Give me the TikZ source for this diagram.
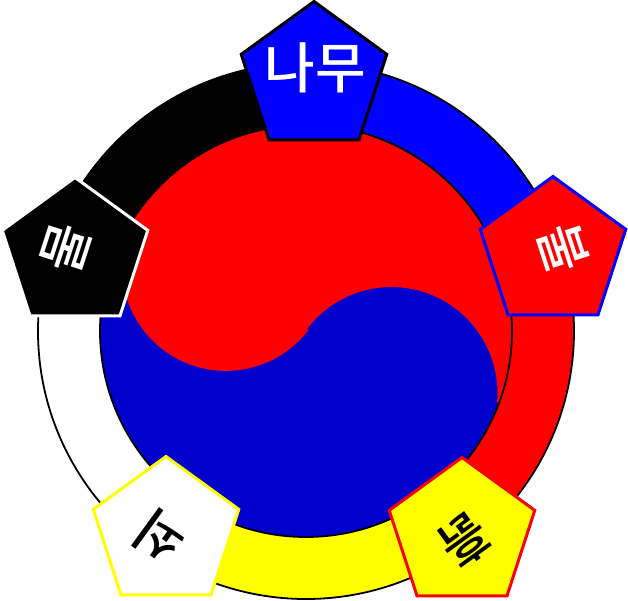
\documentclass[tikz,border=0pt]{standalone}
\usepackage{fontspec}
\newfontfamily\hangul[UprightFont=* Medium]{Noto Sans CJK KR}
\usetikzlibrary{shapes.geometric}
\definecolor{deepblue}{HTML}{0000CC}
\definecolor{puregold}{HTML}{FFFF00}
\tikzstyle{element} = [
  regular polygon,
  regular polygon sides=5,
  minimum size=153pt,
  inner sep=0pt,
  line width=3pt,
  draw,
]
\tikzstyle{glyph} = [
  inner sep=0pt,
  font=\hangul\fontsize{52}{52}\selectfont,
]
\tikzstyle{rim} = [
  draw=black,
  line width=1.8pt,
]

\begin{document}
\begin{tikzpicture}[
    x=1pt,
    y=1pt,
  ]
  \useasboundingbox (0,0) rectangle (628,600);
  \coordinate (hub) at (306,269);
  % the five sectors of the ring
  \foreach \tone/\from/\upto in {
    blue/88/18,
    red/18/-52,
    puregold/-52/-125,
    white/-125/-198,
    black/162/88%
  }{
    \fill[\tone] (hub) -- ++(\from:268) arc[start angle=\from,end angle=\upto,radius=268] -- cycle;
  }
  \draw[rim] (hub) circle[radius=268];
  % the disc
  \fill[deepblue] (hub) circle[radius=206];
  \begin{scope}
    \clip (hub) circle[radius=206];
    \fill[red] (308.5,270)
      arc[start angle=-37.4,end angle=-195,radius=104]
      -- (90,600) -- (628,600) -- (628,197) -- (497,197)
      arc[start angle=-5.4,end angle=142.6,radius=106]
      -- cycle;
  \end{scope}
  \draw[rim] (hub) circle[radius=206];
  % the pentagons
  \node[element,fill=blue,draw=black] (wood) at (314,522) {};
  \node[element,fill=red,draw=blue] (fire) at (553,347) {};
  \node[element,fill=puregold,draw=red] (earth) at (462,66) {};
  \node[element,fill=white,draw=puregold] (metal) at (166,67) {};
  \node[element,fill=black,draw=white] (water) at (75,346) {};
  \node[glyph,text=white,font=\hangul\fontsize{55}{55}\selectfont] (woodname) at (315,532) {나무};
  \node[glyph,text=white,rotate=-72] (firename) at (563,352) {불};
  \node[glyph,text=black,rotate=-144] (earthname) at (465,59) {흙};
  \node[glyph,text=black,rotate=144] (metalname) at (160,63) {쇠};
  \node[glyph,text=white,rotate=72] (watername) at (66,352) {물};
\end{tikzpicture}
\end{document}
